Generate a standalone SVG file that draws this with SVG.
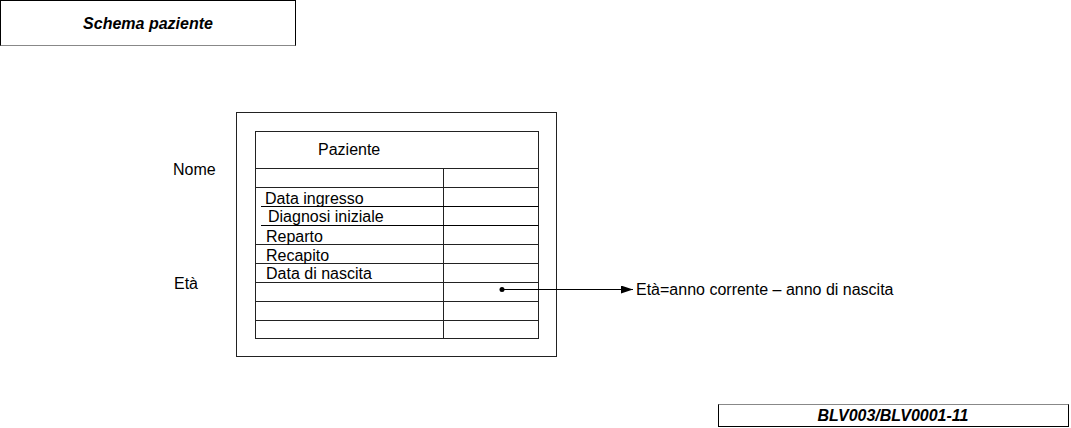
<svg xmlns="http://www.w3.org/2000/svg" width="1071" height="428" viewBox="0 0 1071 428">
<style>
text{font-family:"Liberation Sans",Arial,sans-serif;fill:#000}
.t{font-size:16px}
.bi{font-size:16px;font-weight:bold;font-style:italic}
.ln{stroke:#222;stroke-width:1;fill:none}
.dk{stroke:#000;stroke-width:1;fill:none}
</style>
<defs>
<marker id="ah" markerWidth="12" markerHeight="8" refX="12" refY="4" orient="auto" markerUnits="userSpaceOnUse">
<path d="M0,0 L12,4 L0,8 Z" fill="#000"/>
</marker>
</defs>
<g id="title">
<rect x="0.5" y="0.5" width="295" height="45" fill="#fff" stroke="#000"/>
<line x1="0.5" y1="45.5" x2="295.5" y2="45.5" stroke="#888"/>
<text class="bi" x="148" y="29" text-anchor="middle">Schema paziente</text>
</g>
<g id="labels">
<text class="t" x="173" y="175">Nome</text>
<text class="t" x="174" y="289">Età</text>
</g>
<g id="frame">
<rect x="236.5" y="112.5" width="320" height="244" fill="#fff" stroke="#222"/>
</g>
<g id="paziente">
<rect x="255.5" y="131.5" width="283" height="207" fill="#fff" class="ln"/>
<line class="ln" x1="255.5" y1="168.5" x2="538.5" y2="168.5"/>
<line class="ln" x1="443.5" y1="168.5" x2="443.5" y2="338.5"/>
<line class="ln" x1="255.5" y1="187.5" x2="538.5" y2="187.5"/>
<line class="dk" x1="261" y1="206.5" x2="538.5" y2="206.5"/>
<line class="dk" x1="261" y1="225.5" x2="538.5" y2="225.5"/>
<line class="ln" x1="255.5" y1="244.5" x2="538.5" y2="244.5"/>
<line class="ln" x1="255.5" y1="263.5" x2="538.5" y2="263.5"/>
<line class="ln" x1="255.5" y1="282.5" x2="538.5" y2="282.5"/>
<line class="ln" x1="255.5" y1="301.5" x2="538.5" y2="301.5"/>
<line class="ln" x1="255.5" y1="320.5" x2="538.5" y2="320.5"/>
<text class="t" x="318" y="155">Paziente</text>
<text class="t" x="265" y="204">Data ingresso</text>
<text class="t" x="268" y="222">Diagnosi iniziale</text>
<text class="t" x="266" y="242">Reparto</text>
<text class="t" x="266" y="261">Recapito</text>
<text class="t" x="266" y="279">Data di nascita</text>
</g>
<g id="connectors">
<circle cx="502" cy="289.5" r="2.5" fill="#000"/>
<line x1="502" y1="289.5" x2="633" y2="289.5" stroke="#000" stroke-width="1" marker-end="url(#ah)"/>
</g>
<g id="formula">
<text class="t" x="636" y="295">Età=anno corrente – anno di nascita</text>
</g>
<g id="code">
<rect x="718.5" y="404.5" width="350" height="22" fill="#fff" stroke="#000"/>
<line x1="718.5" y1="404.5" x2="1068.5" y2="404.5" stroke="#888"/>
<text class="bi" x="893" y="421" text-anchor="middle">BLV003/BLV0001-11</text>
</g>
</svg>
